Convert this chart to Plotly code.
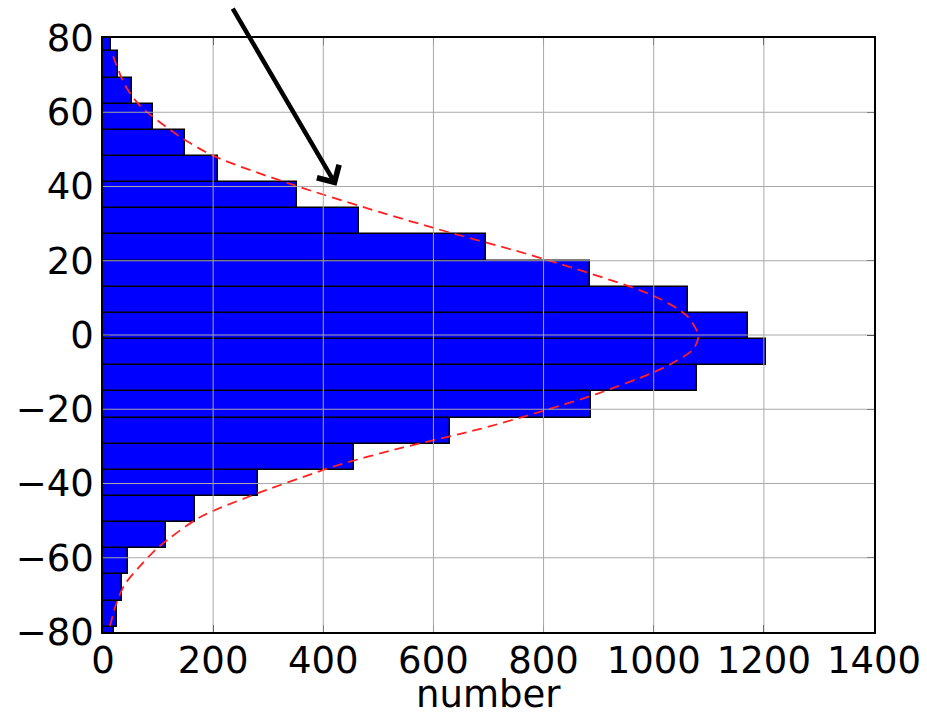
import plotly.graph_objects as go

# Histogram bin edges (value axis) and counts per bin, bottom to top
bin_edges = [-85.6, -78.6, -71.6, -64.5, -57.5, -50.4, -43.4, -36.3, -29.3,
             -22.3, -15.2, -8.2, -1.1, 5.9, 13.0, 20.0, 27.1, 34.1, 41.1,
             48.2, 55.2, 62.3, 69.3, 76.4, 83.4]
counts = [20, 26, 34, 45, 114, 167, 282, 455, 630, 887, 1078, 1204,
          1172, 1062, 884, 695, 465, 353, 209, 149, 90, 52, 28, 14]

# Fitted profile (dashed red), sampled along the value axis
fit_y = [-78.4, -72.0, -67.1, -61.3, -56.8, -49.1, -43.7, -35.2, -30.3,
         -25.3, -20.4, -15.9, -10.1, -7.4, -3.8, -0.2, 5.2, 10.6, 20.5,
         28.6, 33.1, 40.7, 48.3, 53.7, 61.8, 67.3, 76.2]
fit_x = [12.7, 25, 40, 73, 103.5, 176, 262, 424, 545,
         685, 800, 896, 999, 1036, 1072, 1081, 1060, 999, 800,
         606, 503, 340, 200, 137, 67, 40, 15.8]

x_ticks = [0, 200, 400, 600, 800, 1000, 1200, 1400]
y_ticks = [-80, -60, -40, -20, 0, 20, 40, 60, 80]

centers = [(lo + hi) / 2 for lo, hi in zip(bin_edges[:-1], bin_edges[1:])]
widths = [hi - lo for lo, hi in zip(bin_edges[:-1], bin_edges[1:])]

fig = go.Figure()
fig.add_trace(go.Bar(
    x=counts, y=centers, width=widths, orientation="h",
    marker=dict(color="#0000ff", line=dict(color="black", width=1.5)),
    showlegend=False,
))
fig.add_trace(go.Scatter(
    x=fit_x, y=fit_y, mode="lines", line_shape="spline",
    line=dict(color="#ff2020", width=1.8, dash="10px,6px", smoothing=0.8),
    showlegend=False,
))

# Grid drawn over the bars
grid = dict(color="#a8a8a8", width=1)
for xv in x_ticks[1:-1]:
    fig.add_shape(type="line", xref="x", yref="paper", x0=xv, x1=xv,
                  y0=0, y1=1, line=grid, layer="above")
for yv in y_ticks[1:-1]:
    fig.add_shape(type="line", xref="paper", yref="y", x0=0, x1=1,
                  y0=yv, y1=yv, line=grid, layer="above")

# Pointer arrow
fig.add_annotation(
    x=424, y=40.2, ax=234, ay=88.3, xref="x", yref="y", axref="x", ayref="y",
    text="", showarrow=True, arrowhead=4, arrowsize=1.1, arrowwidth=4.5,
    arrowcolor="black", standoff=0,
)

# Horizontal axis label
fig.add_annotation(
    x=0.5, y=-0.105, xref="paper", yref="paper", text="number",
    showarrow=False, xanchor="center", yanchor="middle",
    font=dict(size=37),
)

axis_common = dict(
    showgrid=False, zeroline=False, showline=True, linecolor="black",
    linewidth=1.5, mirror="ticks", ticks="inside", ticklen=7,
    tickcolor="black", tickwidth=1.2, automargin=False,
)
fig.update_xaxes(range=[0, 1400], tickvals=x_ticks,
                 ticklabelstandoff=-5, **axis_common)
fig.update_yaxes(range=[-80, 80], tickvals=y_ticks, **axis_common)

fig.update_layout(
    width=927, height=716,
    margin=dict(l=103, r=53, t=38, b=84),
    paper_bgcolor="white", plot_bgcolor="white",
    font=dict(family="DejaVu Sans", size=37, color="black"),
    bargap=0,
)

fig.write_html("out.html")
